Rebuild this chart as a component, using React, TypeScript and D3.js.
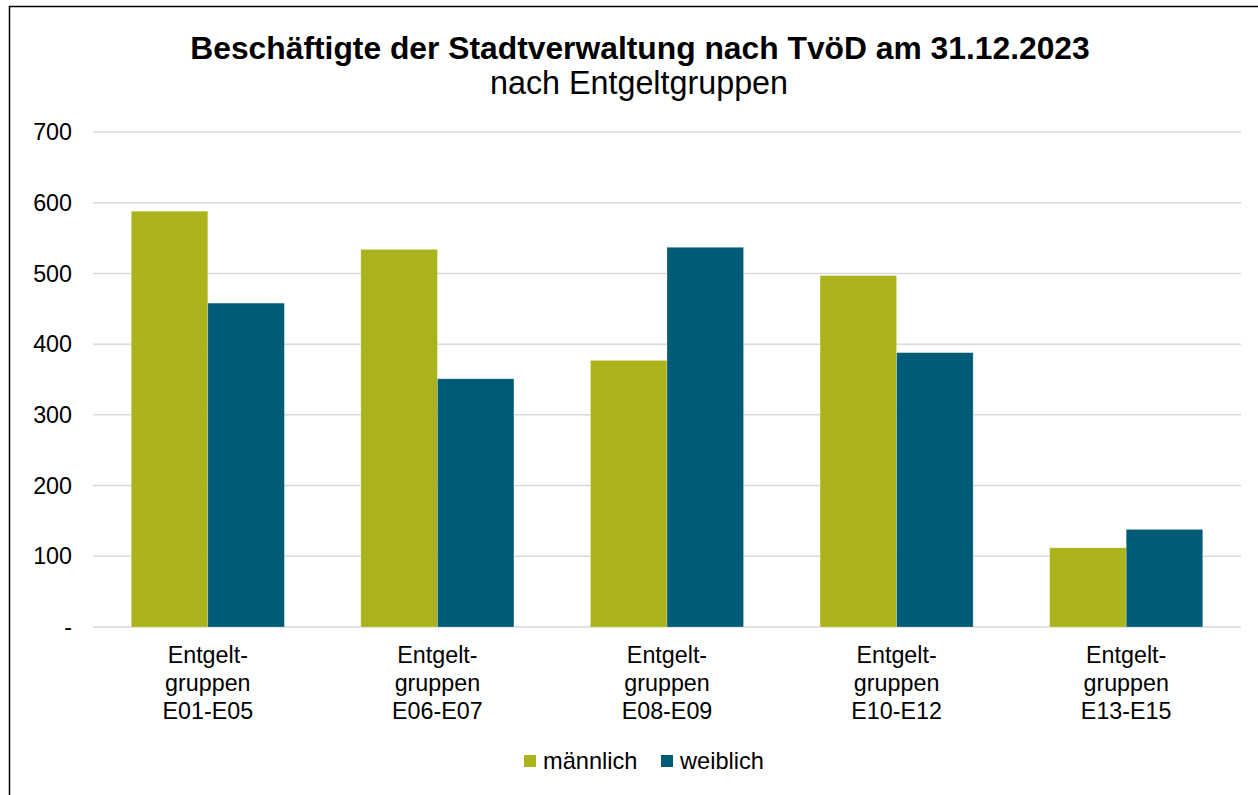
import React from "react";
import * as d3 from "d3";

const categories = [
  ["Entgelt-", "gruppen", "E01-E05"],
  ["Entgelt-", "gruppen", "E06-E07"],
  ["Entgelt-", "gruppen", "E08-E09"],
  ["Entgelt-", "gruppen", "E10-E12"],
  ["Entgelt-", "gruppen", "E13-E15"],
];
const seriesNames = ["männlich", "weiblich"];
const maennlich = [588, 534, 377, 497, 112];
const weiblich = [458, 351, 537, 388, 138];
const yTicks = [0, 100, 200, 300, 400, 500, 600, 700];
const colors = ["#aab319", "#005b77"];

const W = 1258;
const H = 795;
const FONT = "'Liberation Sans', Arial, sans-serif";

export default function App() {
  const keys = categories.map((c) => c.join(" "));
  const x = d3
    .scaleBand<string>()
    .domain(keys)
    .range([93, 1241])
    .paddingInner(1 / 3)
    .paddingOuter(1 / 6);
  const xs = d3.scaleBand<string>().domain(seriesNames).range([0, x.bandwidth()]);
  const y = d3.scaleLinear().domain([0, 700]).range([627, 132]);
  const values = [maennlich, weiblich];

  return (
    <svg
      width={W}
      height={H}
      style={{ position: "absolute", left: 0, top: 0, background: "#fff" }}
      fontFamily={FONT}
    >
      <rect x={0} y={0} width={W} height={H} fill="#fff" />
      <rect x={9.5} y={6.5} width={1400} height={1000} fill="none" stroke="#000" strokeWidth={1.5} />
      <text x={640} y={59} textAnchor="middle" fontSize={31.8} fontWeight="bold" fill="#000">
        Beschäftigte der Stadtverwaltung nach TvöD am 31.12.2023
      </text>
      <text x={639} y={94} textAnchor="middle" fontSize={32.3} fill="#000">
        nach Entgeltgruppen
      </text>
      {yTicks.map((t) => (
        <g key={t}>
          <line x1={93} x2={1241} y1={y(t)} y2={y(t)} stroke="#d9d9d9" strokeWidth={1.5} />
          <text x={72} y={y(t)} dy="0.35em" textAnchor="end" fontSize={23.3} fill="#000">
            {t === 0 ? "-" : d3.format("d")(t)}
          </text>
        </g>
      ))}
      {keys.map((k, i) => (
        <g key={k}>
          {seriesNames.map((s, j) => (
            <rect
              key={s}
              x={(x(k) as number) + (xs(s) as number)}
              y={y(values[j][i])}
              width={xs.bandwidth()}
              height={y(0) - y(values[j][i])}
              fill={colors[j]}
              stroke="#ffffff"
              strokeOpacity={0.35}
              strokeWidth={0.75}
            />
          ))}
          {categories[i].map((line, li) => (
            <text
              key={li}
              x={(x(k) as number) + x.bandwidth() / 2}
              y={663 + li * 28}
              textAnchor="middle"
              fontSize={23.3}
              fill="#000"
            >
              {line}
            </text>
          ))}
        </g>
      ))}
      {seriesNames.map((s, j) => {
        const lx = [524, 661][j];
        return (
          <g key={s}>
            <rect x={lx} y={755} width={12} height={12} fill={colors[j]} />
            <text x={lx + 19} y={769} fontSize={23.6} fill="#000">
              {s}
            </text>
          </g>
        );
      })}
    </svg>
  );
}
